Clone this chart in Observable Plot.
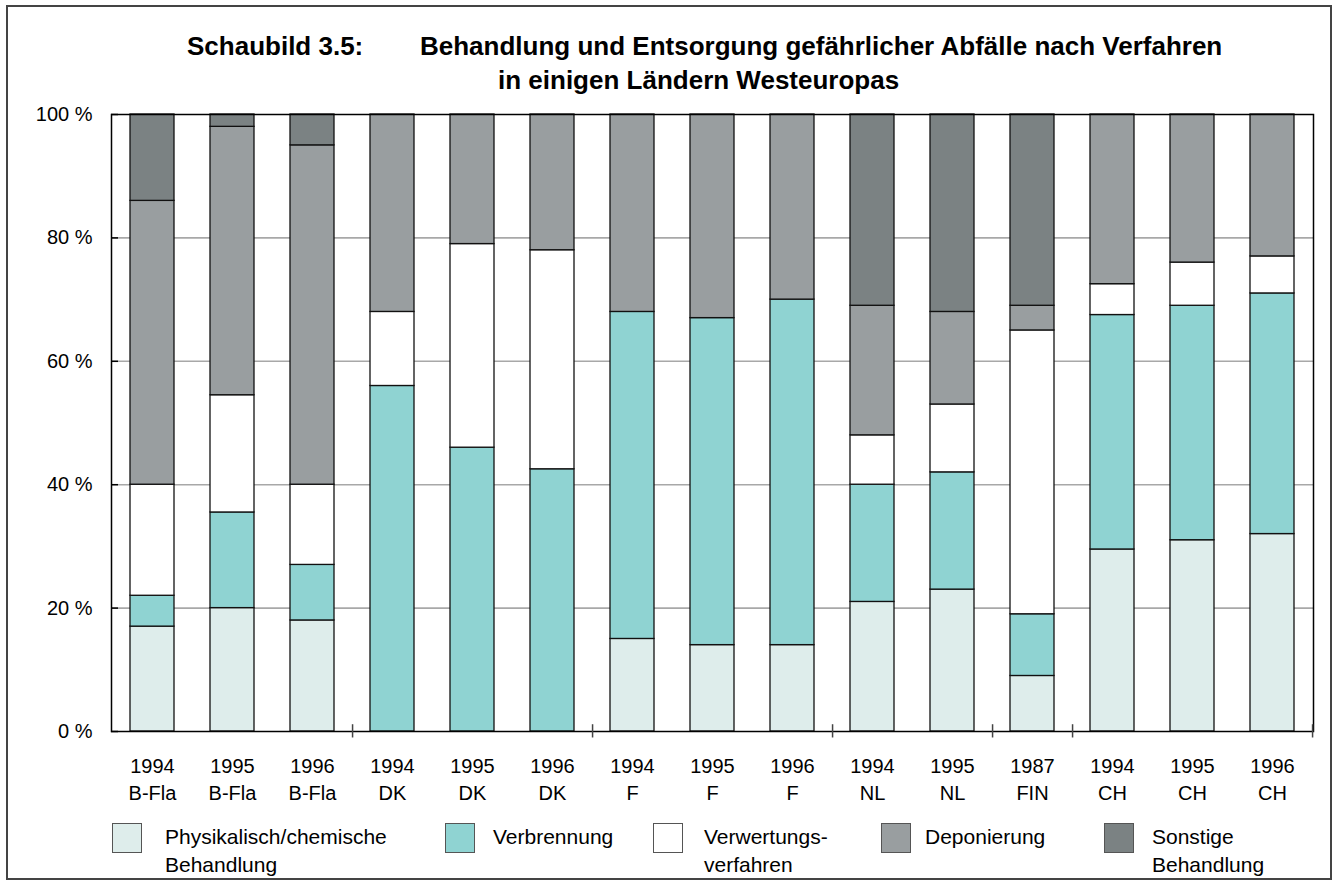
<!DOCTYPE html>
<html><head><meta charset="utf-8">
<script src="https://cdn.jsdelivr.net/npm/d3@7"></script>
<script src="https://cdn.jsdelivr.net/npm/@observablehq/plot@0.6"></script>
<style>
body{margin:0;background:#fff;font-family:"Liberation Sans",Arial,sans-serif;color:#000;}
#page{position:relative;width:1335px;height:882px;overflow:hidden;background:#fff;}
#border{position:absolute;left:6px;top:5px;width:1326px;height:875px;border:2px solid #444;box-sizing:border-box;z-index:5;pointer-events:none;}
.t{position:absolute;font-weight:bold;font-size:26px;line-height:34px;white-space:nowrap;}
#chart{position:absolute;left:0;top:100px;}
.sw{position:absolute;width:30px;height:30px;border:1px solid #555;box-sizing:border-box;top:823px;}
.lt{position:absolute;top:823px;font-size:21px;line-height:28px;white-space:nowrap;}
</style></head>
<body><div id="page"><div id="border"></div>
<div class="t" style="left:187px;top:29px">Schaubild 3.5:</div>
<div class="t" style="left:420px;top:29px">Behandlung und Entsorgung gefährlicher Abfälle nach Verfahren</div>
<div class="t" style="left:498px;top:63px">in einigen Ländern Westeuropas</div>
<div id="chart"></div>
<div id="legend"></div>
</div>
<script>
const years = ["1994","1995","1996","1994","1995","1996","1994","1995","1996","1994","1995","1987","1994","1995","1996"];
const countries = ["B-Fla","B-Fla","B-Fla","DK","DK","DK","F","F","F","NL","NL","FIN","CH","CH","CH"];
const categories = ["Physikalisch/chemische\nBehandlung","Verbrennung","Verwertungs-\nverfahren","Deponierung","Sonstige\nBehandlung"];
const colors = ["#deedeb","#8fd3d2","#ffffff","#999ea0","#7b8283"];
const phys  = [17,20,18,0,0,0,15,14,14,21,23,9,29.5,31,32];
const verb  = [5,15.5,9,56,46,42.5,53,53,56,19,19,10,38,38,39];
const verw  = [18,19,13,12,33,35.5,0,0,0,8,11,46,5,7,6];
const dep   = [46,43.5,55,32,21,22,32,33,30,21,15,4,27.5,24,23];
const sonst = [14,2,5,0,0,0,0,0,0,31,32,31,0,0,0];
const yTicks = [0,20,40,60,80,100];
const groupEnds = [2,5,8,10,11,14];

const series = [phys, verb, verw, dep, sonst];
const labels = years.map((y,i) => y + "\n" + countries[i]);
const rows = [];
labels.forEach((l,i) => series.forEach((s,k) => { if (s[i] > 0) rows.push({label:l, cat:categories[k], value:s[i]}); }));

const W = 1335, ML = 111, MR = 22;
const step = (W - ML - MR) / labels.length;

const chart = Plot.plot({
  width: W, height: 710,
  marginLeft: ML, marginRight: MR, marginTop: 14, marginBottom: 79,
  style: {fontFamily: '"Liberation Sans", Arial, sans-serif', color: "#000", background: "transparent"},
  x: {domain: labels, paddingInner: 0.45, paddingOuter: 0.225, axis: null, label: null},
  y: {domain: [0,100], axis: null, label: null},
  color: {domain: categories, range: colors},
  marks: [
    Plot.gridY([20,40,60,80], {stroke: "#a8a8a8", strokeOpacity: 1, strokeWidth: 1.6}),
    Plot.barY(rows, {x: "label", y: "value", fill: "cat", stroke: "#111", strokeWidth: 1.3}),
    Plot.frame({stroke: "#000", strokeWidth: 1.5}),
    Plot.axisY(yTicks, {tickSize: -7, fill: "none", strokeWidth: 1.5}),
    Plot.axisY(yTicks, {tickSize: 0, tickPadding: 19, fontSize: 20, tickFormat: d => d + " %"}),
    Plot.axisX(labels, {tickSize: 0, tickPadding: 22, fontSize: 20, lineHeight: 1.35, tickFormat: d => d}),
    Plot.ruleX(groupEnds, {x: i => labels[i], dx: step/2, y1: -1.05, y2: 1.1, stroke: "#444", strokeWidth: 1.5})
  ]
});
document.getElementById("chart").appendChild(chart);

const swLeft = [112,445,653,881,1104];
const txLeft = [165,493,704,925,1152];
const leg = document.getElementById("legend");
categories.forEach((c,i) => {
  const s = document.createElement("div");
  s.className = "sw"; s.style.left = swLeft[i] + "px"; s.style.background = colors[i];
  leg.appendChild(s);
  const t = document.createElement("div");
  t.className = "lt"; t.style.left = txLeft[i] + "px";
  t.innerHTML = c.split("\n").join("<br>");
  leg.appendChild(t);
});
</script>
</body></html>
